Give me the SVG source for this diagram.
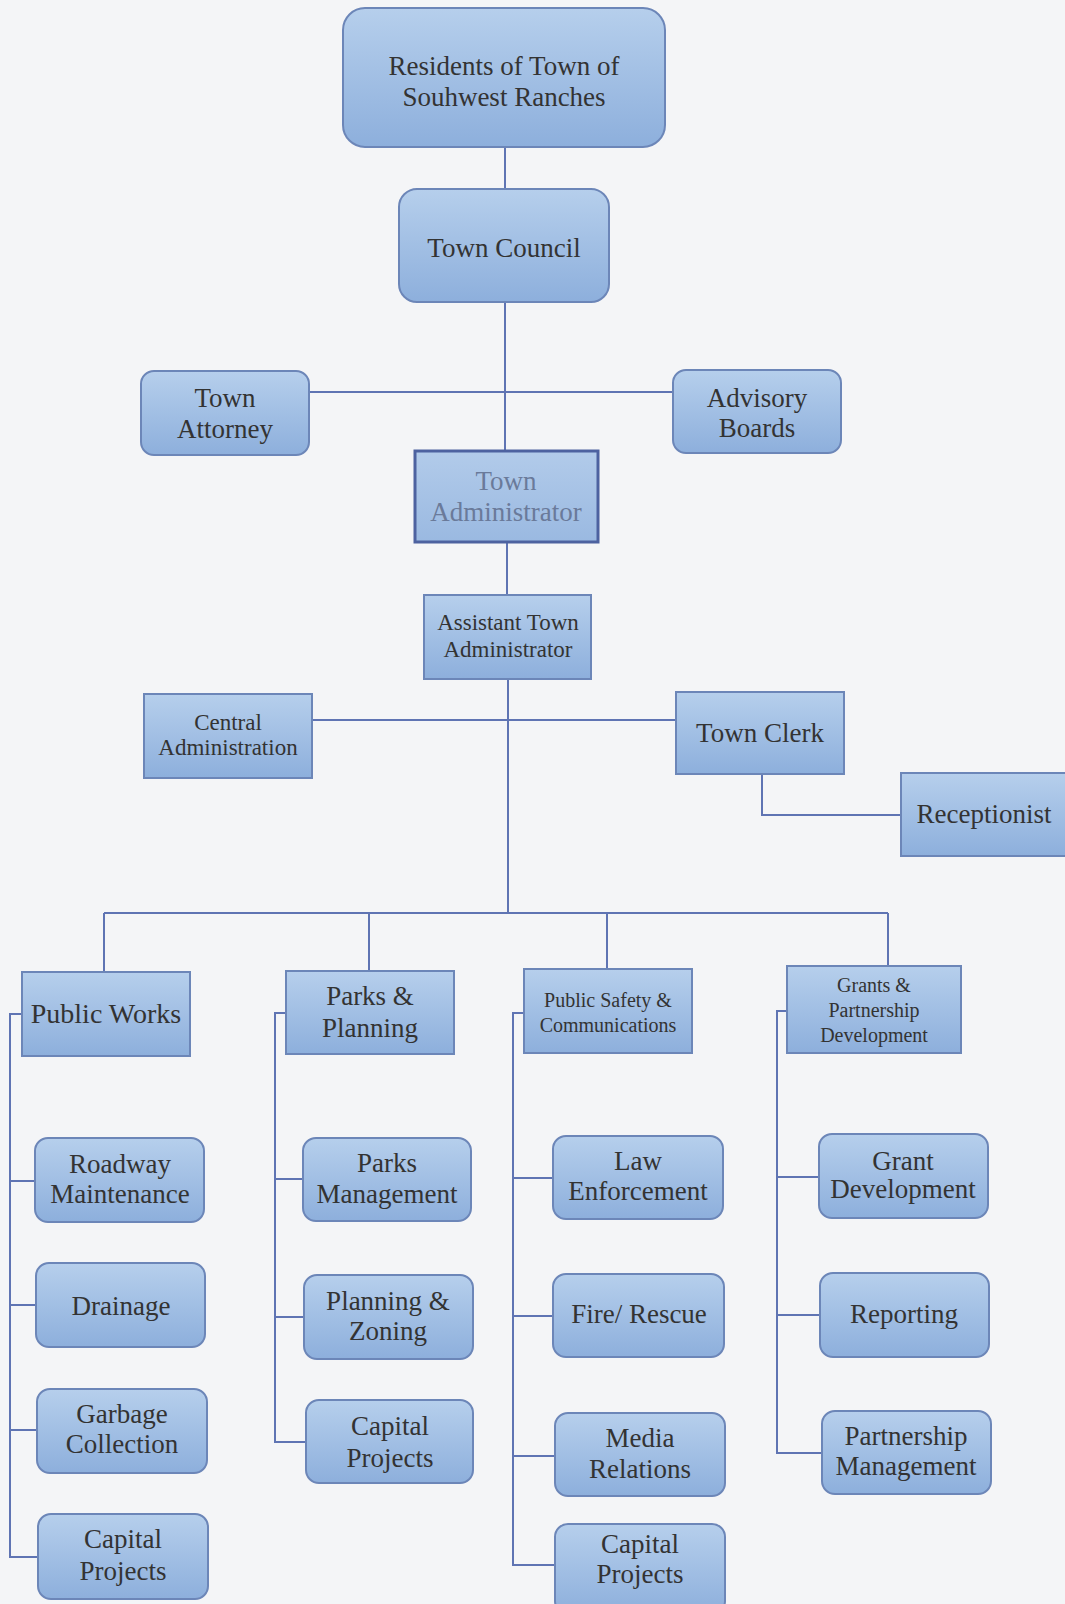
<svg xmlns="http://www.w3.org/2000/svg" width="1065" height="1604" viewBox="0 0 1065 1604">
<defs>
<linearGradient id="g" x1="0" y1="0" x2="0" y2="1">
<stop offset="0" stop-color="#b6cfec"/>
<stop offset="1" stop-color="#8dafdc"/>
</linearGradient>
<linearGradient id="g2" x1="0" y1="0" x2="0" y2="1">
<stop offset="0" stop-color="#b2cbea"/>
<stop offset="1" stop-color="#9ab9e1"/>
</linearGradient>
</defs>
<style>
.b{fill:url(#g);stroke:#6c86b8;stroke-width:2}
.ta{fill:url(#g2);stroke:#4d62a0;stroke-width:3}
.t{font-family:"Liberation Serif",serif;fill:#333;text-anchor:middle}
.c{fill:none;stroke:#5f74b3;stroke-width:2}
</style>
<rect width="1065" height="1604" fill="#f4f5f7"/>
<g id="connectors" class="c">
<path d="M505 147V189M505 302V450M309 392H673M507 542V595M508 679V912M312 720H676M762 774V815H900M104 913H888M104 913V972M369 913V971M607 913V969M888 913V966"/>
<path d="M22 1014H10V1557H38M10 1181H35M10 1305H36M10 1430H37"/>
<path d="M286 1013H275V1442H306M275 1179H303M275 1317H304"/>
<path d="M524 1013H513V1565H555M513 1178H553M513 1316H553M513 1456H555"/>
<path d="M787 1011H777V1453H822M777 1177H819M777 1315H820"/>
</g>
<g id="residents"><rect class="b" x="343" y="8" width="322" height="139" rx="22"/>
<text class="t" x="504" y="75" font-size="27">Residents  of Town of</text>
<text class="t" x="504" y="106" font-size="27">Souhwest Ranches</text></g>
<g id="council"><rect class="b" x="399" y="189" width="210" height="113" rx="18"/>
<text class="t" x="504" y="257" font-size="27">Town Council</text></g>
<g id="attorney"><rect class="b" x="141" y="371" width="168" height="84" rx="13"/>
<text class="t" x="225" y="407" font-size="27">Town</text>
<text class="t" x="225" y="438" font-size="27">Attorney</text></g>
<g id="advisory"><rect class="b" x="673" y="370" width="168" height="83" rx="13"/>
<text class="t" x="757" y="407" font-size="27">Advisory</text>
<text class="t" x="757" y="437" font-size="27">Boards</text></g>
<g id="townadmin"><rect class="ta" x="415" y="451" width="183" height="91"/>
<text class="t" x="506" y="490" font-size="27" style="fill:#6a7a9a">Town</text>
<text class="t" x="506" y="521" font-size="27" style="fill:#6a7a9a">Administrator</text></g>
<g id="asstadmin"><rect class="b" x="424" y="595" width="167" height="84"/>
<text class="t" x="508" y="630" font-size="23">Assistant Town</text>
<text class="t" x="508" y="657" font-size="23">Administrator</text></g>
<g id="central"><rect class="b" x="144" y="694" width="168" height="84"/>
<text class="t" x="228" y="730" font-size="23">Central</text>
<text class="t" x="228" y="755" font-size="23">Administration</text></g>
<g id="clerk"><rect class="b" x="676" y="692" width="168" height="82"/>
<text class="t" x="760" y="742" font-size="27">Town Clerk</text></g>
<g id="receptionist"><rect class="b" x="901" y="773" width="170" height="83"/>
<text class="t" x="984" y="823" font-size="27">Receptionist</text></g>
<g id="publicworks"><rect class="b" x="22" y="972" width="168" height="84"/>
<text class="t" x="106" y="1023" font-size="28">Public Works</text></g>
<g id="parksplanning"><rect class="b" x="286" y="971" width="168" height="83"/>
<text class="t" x="370" y="1005" font-size="27">Parks &amp;</text>
<text class="t" x="370" y="1037" font-size="27">Planning</text></g>
<g id="publicsafety"><rect class="b" x="524" y="969" width="168" height="84"/>
<text class="t" x="608" y="1007" font-size="20">Public Safety &amp;</text>
<text class="t" x="608" y="1032" font-size="20">Communications</text></g>
<g id="grants"><rect class="b" x="787" y="966" width="174" height="87"/>
<text class="t" x="874" y="992" font-size="20">Grants &amp;</text>
<text class="t" x="874" y="1017" font-size="20">Partnership</text>
<text class="t" x="874" y="1042" font-size="20">Development</text></g>
<g id="roadway"><rect class="b" x="35" y="1138" width="169" height="84" rx="13"/>
<text class="t" x="120" y="1173" font-size="27">Roadway</text>
<text class="t" x="120" y="1203" font-size="27">Maintenance</text></g>
<g id="drainage"><rect class="b" x="36" y="1263" width="169" height="84" rx="13"/>
<text class="t" x="121" y="1315" font-size="27">Drainage</text></g>
<g id="garbage"><rect class="b" x="37" y="1389" width="170" height="84" rx="13"/>
<text class="t" x="122" y="1423" font-size="27">Garbage</text>
<text class="t" x="122" y="1453" font-size="27">Collection</text></g>
<g id="capital-pw"><rect class="b" x="38" y="1514" width="170" height="85" rx="13"/>
<text class="t" x="123" y="1548" font-size="27">Capital</text>
<text class="t" x="123" y="1580" font-size="27">Projects</text></g>
<g id="parksmgmt"><rect class="b" x="303" y="1138" width="168" height="83" rx="13"/>
<text class="t" x="387" y="1172" font-size="27">Parks</text>
<text class="t" x="387" y="1203" font-size="27">Management</text></g>
<g id="planningzoning"><rect class="b" x="304" y="1275" width="169" height="84" rx="13"/>
<text class="t" x="388" y="1310" font-size="27">Planning &amp;</text>
<text class="t" x="388" y="1340" font-size="27">Zoning</text></g>
<g id="capital-pp"><rect class="b" x="306" y="1400" width="167" height="83" rx="13"/>
<text class="t" x="390" y="1435" font-size="27">Capital</text>
<text class="t" x="390" y="1467" font-size="27">Projects</text></g>
<g id="law"><rect class="b" x="553" y="1136" width="170" height="83" rx="13"/>
<text class="t" x="638" y="1170" font-size="27">Law</text>
<text class="t" x="638" y="1200" font-size="27">Enforcement</text></g>
<g id="fire"><rect class="b" x="553" y="1274" width="171" height="83" rx="13"/>
<text class="t" x="639" y="1323" font-size="27">Fire/ Rescue</text></g>
<g id="media"><rect class="b" x="555" y="1413" width="170" height="83" rx="13"/>
<text class="t" x="640" y="1447" font-size="27">Media</text>
<text class="t" x="640" y="1478" font-size="27">Relations</text></g>
<g id="capital-ps"><rect class="b" x="555" y="1524" width="170" height="90" rx="13"/>
<text class="t" x="640" y="1553" font-size="27">Capital</text>
<text class="t" x="640" y="1583" font-size="27">Projects</text></g>
<g id="grantdev"><rect class="b" x="819" y="1134" width="169" height="84" rx="13"/>
<text class="t" x="903" y="1170" font-size="27">Grant</text>
<text class="t" x="903" y="1198" font-size="27">Development</text></g>
<g id="reporting"><rect class="b" x="820" y="1273" width="169" height="84" rx="13"/>
<text class="t" x="904" y="1323" font-size="27">Reporting</text></g>
<g id="partnership"><rect class="b" x="822" y="1411" width="169" height="83" rx="13"/>
<text class="t" x="906" y="1445" font-size="27">Partnership</text>
<text class="t" x="906" y="1475" font-size="27">Management</text></g>
</svg>
